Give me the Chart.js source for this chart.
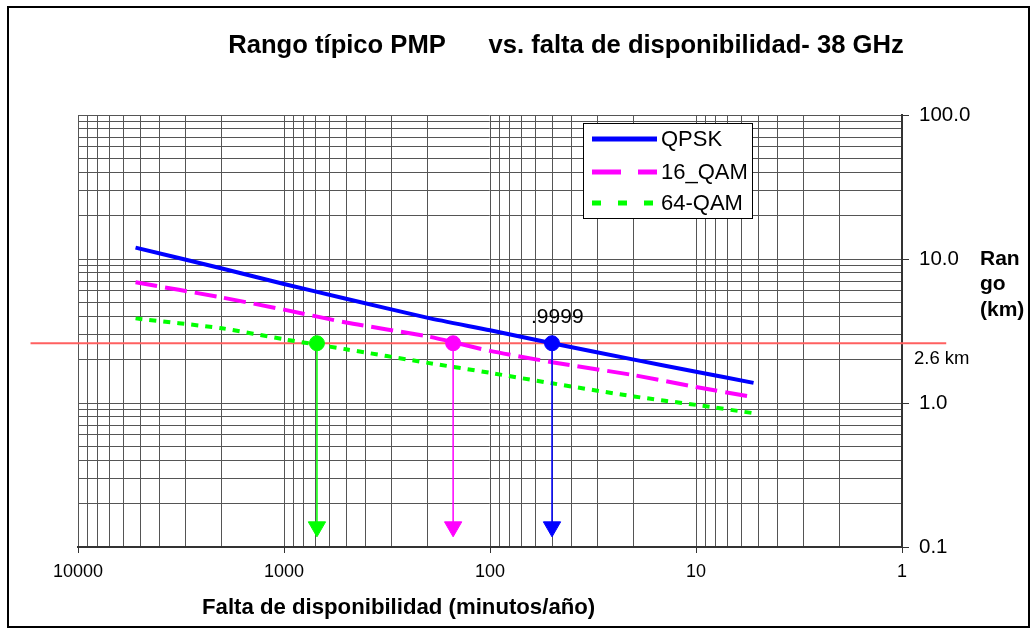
<!DOCTYPE html>
<html><head><meta charset="utf-8">
<script src="https://cdn.jsdelivr.net/npm/chart.js@4"></script>
<style>html,body{margin:0;padding:0;background:#fff}#wrap{width:1034px;height:634px}</style>
</head><body><div id="wrap"><canvas id="c" width="1034" height="634"></canvas></div>
<script>
// ---- data ----
const minutes = [5256, 2000, 1000, 500, 200, 100, 50, 20, 10, 5.256];
const qpsk   = [12.0, 8.6, 6.7, 5.3, 3.9, 3.2, 2.6, 2.0, 1.65, 1.38];
const qam16  = [6.9, 5.4, 4.45, 3.62, 2.9, 2.3, 1.92, 1.56, 1.29, 1.10];
const qam64  = [3.87, 3.30, 2.77, 2.36, 1.90, 1.62, 1.37, 1.11, 0.97, 0.85];
const seriesNames = ['QPSK', '16_QAM', '64-QAM'];
const xTickValues = [10000, 1000, 100, 10, 1];
const xTickLabels = ['10000', '1000', '100', '10', '1'];
const yTickValues = [100, 10, 1, 0.1];
const yTickLabels = ['100.0', '10.0', '1.0', '0.1'];
const thresholdKm = 2.6;
const thresholdSpan = [17000, 0.61];
const crossMinutes = [50, 151, 692];   // QPSK, 16_QAM, 64-QAM at 2.6 km
const arrowEndKm = 0.138;

const COLORS = ['#0000FF', '#FF00FF', '#00FF00'];
const DASHES = [[], [22, 8], [7, 7]];
const LEG_DASHES = [[], [29, 17], [9, 17]];
const FONT = '"Liberation Sans", Arial, Helvetica, sans-serif';
Chart.defaults.font.family = FONT;
Chart.defaults.color = '#000';

const seriesVals = [qpsk, qam16, qam64];
const pts = (xs, ys) => xs.map((x, i) => ({x, y: ys[i]}));

function logTicks(lo, hi) {
  const out = [];
  for (let e = Math.round(Math.log10(lo)); e < Math.round(Math.log10(hi)); e++) {
    for (let m = 1; m <= 9; m++) out.push({value: +(m * Math.pow(10, e)).toPrecision(6)});
  }
  out.push({value: hi});
  return out;
}
function labelFor(v, vals, labs) {
  for (let i = 0; i < vals.length; i++) if (Math.abs(Math.log10(v) - Math.log10(vals[i])) < 1e-6) return labs[i];
  return '';
}

const datasets = [];
// arrows (drawn on top)
crossMinutes.forEach((cx, i) => {
  datasets.push({
    label: 'arrow' + i,
    data: [{x: cx, y: thresholdKm}, {x: cx, y: arrowEndKm}],
    borderColor: COLORS[i], backgroundColor: COLORS[i],
    borderWidth: 1.5,
    pointStyle: ['circle', 'triangle'],
    pointRadius: [7.5, 10],
    pointRotation: [0, 180],
    pointBorderWidth: 1,
    pointBackgroundColor: COLORS[i], pointBorderColor: COLORS[i],
    fill: false, tension: 0
  });
});
seriesNames.forEach((n, i) => {
  datasets.push({
    label: n,
    data: pts(minutes, seriesVals[i]),
    borderColor: COLORS[i], backgroundColor: COLORS[i],
    borderWidth: 4, borderDash: DASHES[i], borderCapStyle: 'butt',
    pointRadius: 0, fill: false, tension: 0.2
  });
});
datasets.push({
  label: 'threshold',
  data: thresholdSpan.map(x => ({x, y: thresholdKm})),
  borderColor: '#FF6060', borderWidth: 2, pointRadius: 0, fill: false, clip: false, tension: 0
});

const decorations = {
  id: 'decorations',
  afterDraw(chart) {
    const ctx = chart.ctx, xs = chart.scales.x, ys = chart.scales.y, ca = chart.chartArea;
    ctx.save();
    // outer frame
    ctx.strokeStyle = '#000'; ctx.lineWidth = 2;
    ctx.strokeRect(8, 7, 1021, 620);
    ctx.fillStyle = '#000';
    // title
    ctx.font = 'bold 25.6px ' + FONT;
    ctx.textAlign = 'center'; ctx.textBaseline = 'middle';
    ctx.fillText('Rango típico PMP      vs. falta de disponibilidad- 38 GHz', 566, 46);
    // x axis title
    ctx.font = 'bold 22.2px ' + FONT;
    ctx.textAlign = 'left';
    ctx.fillText('Falta de disponibilidad (minutos/año)', 202, 608);
    // y axis title
    ctx.font = 'bold 21px ' + FONT;
    ['Ran', 'go', '(km)'].forEach((t, i) => ctx.fillText(t, ca.right + 78, 259 + i * 25.5));
    // threshold label
    ctx.font = '18.5px ' + FONT;
    ctx.fillText('2.6 km', ca.right + 12, ys.getPixelForValue(thresholdKm) + 16);
    // .9999 label
    ctx.font = '21px ' + FONT;
    ctx.fillText('.9999', xs.getPixelForValue(crossMinutes[0]) - 21, ys.getPixelForValue(thresholdKm) - 26);
    // legend
    const lx = 583.5, ly = 123.5, lw = 169, lh = 95;
    ctx.fillStyle = '#fff'; ctx.fillRect(lx, ly, lw, lh);
    ctx.strokeStyle = '#000'; ctx.lineWidth = 1; ctx.strokeRect(lx, ly, lw, lh);
    const rows = [139, 172, 203];
    seriesNames.forEach((n, i) => {
      ctx.save();
      ctx.strokeStyle = COLORS[i]; ctx.lineWidth = 5; ctx.lineCap = 'butt';
      ctx.setLineDash(LEG_DASHES[i]);
      ctx.beginPath(); ctx.moveTo(592, rows[i]); ctx.lineTo(657, rows[i]); ctx.stroke();
      ctx.restore();
      ctx.fillStyle = '#000'; ctx.font = '22px ' + FONT;
      ctx.textAlign = 'left'; ctx.textBaseline = 'middle';
      ctx.fillText(n, 661, rows[i] + 1);
    });
    ctx.restore();
  }
};

new Chart(document.getElementById('c'), {
  type: 'line',
  data: {datasets},
  options: {
    responsive: false, animation: false, devicePixelRatio: 1,
    layout: {padding: {top: 115, left: 78, right: 0, bottom: 0}},
    plugins: {legend: {display: false}, title: {display: false}, tooltip: {enabled: false}},
    scales: {
      x: {
        type: 'logarithmic', position: 'bottom', reverse: true, min: 1, max: 10000,
        afterBuildTicks: s => { s.ticks = logTicks(1, 10000); },
        afterFit: s => { s.height = 87; },
        ticks: {autoSkip: false, maxRotation: 0, font: {size: 18}, color: '#000', padding: 8,
                callback: v => labelFor(v, xTickValues, xTickLabels)},
        grid: {color: '#555', lineWidth: 1, tickLength: 6,
               tickColor: c => labelFor(c.tick.value, xTickValues, xTickLabels) ? '#333' : 'rgba(0,0,0,0)'},
        border: {color: '#333', width: 2}
      },
      y: {
        type: 'logarithmic', position: 'right', min: 0.1, max: 100,
        afterBuildTicks: s => { s.ticks = logTicks(0.1, 100); },
        afterFit: s => { s.width = 132; },
        ticks: {autoSkip: false, font: {size: 20.5}, color: '#000', padding: 10,
                callback: v => labelFor(v, yTickValues, yTickLabels)},
        grid: {color: '#555', lineWidth: 1, tickLength: 7,
               tickColor: c => labelFor(c.tick.value, yTickValues, yTickLabels) ? '#333' : 'rgba(0,0,0,0)'},
        border: {color: '#333', width: 2}
      }
    }
  },
  plugins: [decorations]
});
</script>
</body></html>
